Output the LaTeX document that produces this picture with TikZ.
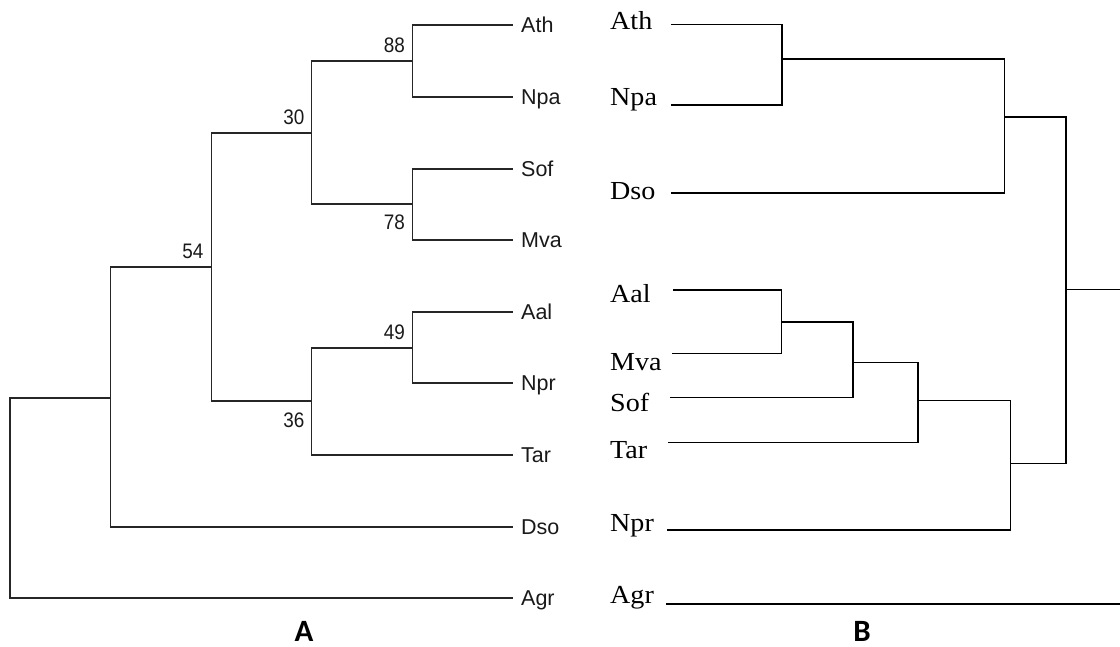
\documentclass[tikz,border=0pt]{standalone}
\usepackage{fontspec}
\newfontfamily\asf{Liberation Sans}
\newfontfamily\numf[FakeStretch=0.9]{Liberation Sans}
\newfontfamily\bsf[FakeStretch=1.08]{Liberation Serif}
\newfontfamily\capf{Carlito}
\tikzset{
  branchA/.style={line width=1.4pt, draw=black!85},
  branchB/.style={line width=1.4pt, draw=black},
  leafA/.style={anchor=base west, inner sep=0pt, font=\asf\fontsize{21.5}{24}\selectfont, text=black!90},
  bootA/.style={anchor=base east, inner sep=0pt, font=\numf\fontsize{21}{23}\selectfont, text=black!90},
  leafB/.style={anchor=base west, inner sep=0pt, font=\bsf\fontsize{26}{28}\selectfont},
  panel/.style={anchor=base, inner sep=0pt, font=\capf\bfseries\fontsize{31}{33}\selectfont}
}
\begin{document}
\begin{tikzpicture}[x=1pt,y=-1pt]
\useasboundingbox (0,0) rectangle (1120,647);
% ---------------- Tree A ----------------
% leaf tips
\coordinate (aAth) at (513,25);
\coordinate (aNpa) at (513,97);
\coordinate (aSof) at (513,169);
\coordinate (aMva) at (513,240);
\coordinate (aAal) at (513,312);
\coordinate (aNpr) at (513,383);
\coordinate (aTar) at (513,455);
\coordinate (aDso) at (513,527);
\coordinate (aAgr) at (513,598);
% internal nodes
\coordinate (a88) at (412.5,61);
\coordinate (a78) at (412.5,204);
\coordinate (a30) at (311.4,133);
\coordinate (a49) at (412.5,348);
\coordinate (a36) at (311.4,401);
\coordinate (a54) at (211.4,267);
\coordinate (aD) at (110.7,398);
\coordinate (aRoot) at (10,500);
% branches
\draw[branchA] (a88) |- (aAth);
\draw[branchA] (a88) |- (aNpa);
\draw[branchA] (a78) |- (aSof);
\draw[branchA] (a78) |- (aMva);
\draw[branchA] (a30) |- (a88);
\draw[branchA] (a30) |- (a78);
\draw[branchA] (a49) |- (aAal);
\draw[branchA] (a49) |- (aNpr);
\draw[branchA] (a36) |- (a49);
\draw[branchA] (a36) |- (aTar);
\draw[branchA] (a54) |- (a30);
\draw[branchA] (a54) |- (a36);
\draw[branchA] (aD) |- (a54);
\draw[branchA] (aD) |- (aDso);
\draw[branchA] (aRoot) |- (aD);
\draw[branchA] (aRoot) |- (aAgr);
% leaf labels
\node[leafA] (lAth) at (521,32.5) {Ath};
\node[leafA] (lNpa) at (521,104.5) {Npa};
\node[leafA] (lSof) at (521,176.5) {Sof};
\node[leafA] (lMva) at (521,247.5) {Mva};
\node[leafA] (lAal) at (521,319.5) {Aal};
\node[leafA] (lNpr) at (521,390.5) {Npr};
\node[leafA] (lTar) at (521,462.5) {Tar};
\node[leafA] (lDso) at (521,534.5) {Dso};
\node[leafA] (lAgr) at (521,605.5) {Agr};
% bootstrap values
\node[bootA] (b88) at (405,53) {88};
\node[bootA] (b78) at (405,230) {78};
\node[bootA] (b30) at (304.5,125) {30};
\node[bootA] (b54) at (203.5,258.5) {54};
\node[bootA] (b49) at (405,340) {49};
\node[bootA] (b36) at (304.5,427.5) {36};
% ---------------- Tree B ----------------
\coordinate (bAth) at (670.7,24.3);
\coordinate (bNpa) at (671,105);
\coordinate (bDso) at (670.7,193);
\coordinate (bAal) at (672.9,290);
\coordinate (bMva) at (671.8,353.7);
\coordinate (bSof) at (670.4,397.3);
\coordinate (bTar) at (668,442.3);
\coordinate (bNpr) at (667,530);
\coordinate (bAgr) at (666.4,604);
\coordinate (bAgrEnd) at (1120,604);
\coordinate (b1) at (782,59);
\coordinate (b2) at (1004.6,117);
\coordinate (b3) at (781.4,322);
\coordinate (b4) at (853,362.7);
\coordinate (b5) at (918,400.7);
\coordinate (b6) at (1010.7,463.7);
\coordinate (b7) at (1066,289.3);
\coordinate (bStub) at (1120,289.3);
\draw[branchB] (b1) |- (bAth);
\draw[branchB] (b1) |- (bNpa);
\draw[branchB] (b2) |- (b1);
\draw[branchB] (b2) |- (bDso);
\draw[branchB] (b3) |- (bAal);
\draw[branchB] (b3) |- (bMva);
\draw[branchB] (b4) |- (b3);
\draw[branchB] (b4) |- (bSof);
\draw[branchB] (b5) |- (b4);
\draw[branchB] (b5) |- (bTar);
\draw[branchB] (b6) |- (b5);
\draw[branchB] (b6) |- (bNpr);
\draw[branchB] (b7) |- (b2);
\draw[branchB] (b7) |- (b6);
\draw[branchB] (b7) -- (bStub);
\draw[branchB] (bAgr) -- (bAgrEnd);
% leaf labels
\node[leafB] (mAth) at (610,30) {Ath};
\node[leafB] (mNpa) at (610,106) {Npa};
\node[leafB] (mDso) at (610,200) {Dso};
\node[leafB] (mAal) at (610,302) {Aal};
\node[leafB] (mMva) at (610,370.7) {Mva};
\node[leafB] (mSof) at (610,411.7) {Sof};
\node[leafB] (mTar) at (610,458.3) {Tar};
\node[leafB] (mNpr) at (610,531) {Npr};
\node[leafB] (mAgr) at (610,603) {Agr};
% panel labels
\node[panel] (pA) at (304,641.7) {A};
\node[panel] (pB) at (862,641.7) {B};
\end{tikzpicture}
\end{document}
